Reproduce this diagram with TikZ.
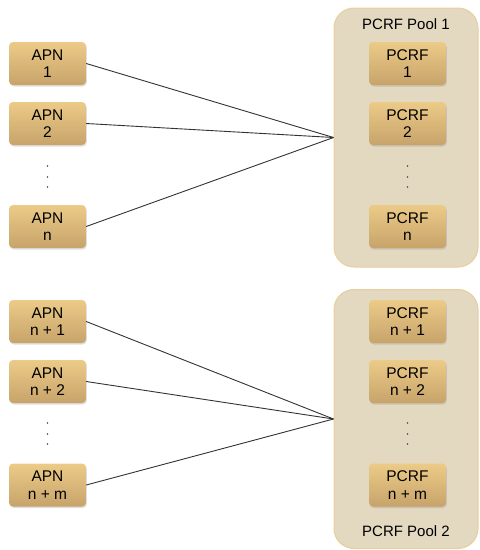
\documentclass[tikz,border=0pt]{standalone}
\usepackage{fontspec}
\setmainfont{Liberation Sans}
\usepackage{tikz}
\usetikzlibrary{shadows,positioning}
\definecolor{boxtop}{HTML}{ECCB88}
\definecolor{boxbot}{HTML}{C7A36A}
\definecolor{poolfill}{HTML}{E3D8C0}
\definecolor{pooldraw}{HTML}{E8CF9C}
\tikzset{
  unitbox/.style={rounded corners=4pt, top color=boxtop, bottom color=boxbot,
    minimum width=77pt, minimum height=43pt, inner sep=0pt, align=center,
    font=\fontsize{15.5}{17.5}\selectfont,
    drop shadow={shadow xshift=0.8pt, shadow yshift=-1.5pt, opacity=0.25}},
  poolbox/.style={rounded corners=20pt, fill=poolfill, draw=pooldraw,
    line width=1pt, minimum width=144pt, minimum height=259pt},
  pooltitle/.style={font=\fontsize{15}{17}\selectfont},
  link/.style={line width=0.9pt, draw=black!80}
}
\begin{document}
\begin{tikzpicture}[x=1pt,y=-1pt]
        \useasboundingbox (0,0) rectangle (480,550);
        \def\xa{47.5}
        \def\xp{407.5}
        %Pools
        \node[poolbox] (pool1) at (406,137.5) {};
        \node[poolbox] (pool2) at (406,419) {};
        \node[pooltitle] (title1) at (406,24) {PCRF Pool 1};
        \node[pooltitle] (title2) at (406,531) {PCRF Pool 2};
        \coordinate (hub1) at (pool1.west);
        \coordinate (hub2) at (pool2.west);
        %Upper group
        \node[unitbox] (apn1) at (\xa,63.5) {APN\\1};
        \node[unitbox] (apn2) at (\xa,123.5) {APN\\2};
        \node[unitbox] (apnn) at (\xa,226.5) {APN\\n};
        \node[unitbox] (pcrf1) at (\xp,63.5) {PCRF\\1};
        \node[unitbox] (pcrf2) at (\xp,123.5) {PCRF\\2};
        \node[unitbox] (pcrfn) at (\xp,226.5) {PCRF\\n};
        %Lower group
        \node[unitbox] (apnn1) at (\xa,321.5) {APN\\n + 1};
        \node[unitbox] (apnn2) at (\xa,381.5) {APN\\n + 2};
        \node[unitbox] (apnnm) at (\xa,485) {APN\\n + m};
        \node[unitbox] (pcrfn1) at (\xp,321.5) {PCRF\\n + 1};
        \node[unitbox] (pcrfn2) at (\xp,381.5) {PCRF\\n + 2};
        \node[unitbox] (pcrfnm) at (\xp,485) {PCRF\\n + m};
        %Dots
        \foreach \x in {\xa,\xp}
          \foreach \y in {166,177,187,423,434,444}
            \fill[black!70] (\x,\y) circle(0.9pt);
        %Links
        \draw[link] (apn1.east) -- (hub1);
        \draw[link] (apn2.east) -- (hub1);
        \draw[link] (apnn.east) -- (hub1);
        \draw[link] (apnn1.east) -- (hub2);
        \draw[link] (apnn2.east) -- (hub2);
        \draw[link] (apnnm.east) -- (hub2);
      \end{tikzpicture}
\end{document}
